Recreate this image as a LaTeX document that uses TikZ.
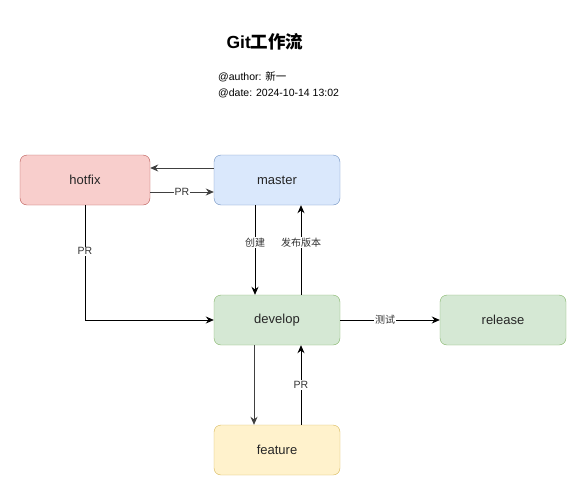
\documentclass[tikz,border=0pt]{standalone}
\usepackage{fontspec}
\setmainfont{Liberation Sans}
\newfontfamily\cjk{Noto Sans CJK SC}
\usetikzlibrary{arrows.meta}
\definecolor{redfill}{HTML}{F8CECC}
\definecolor{redline}{HTML}{B85450}
\definecolor{bluefill}{HTML}{DAE8FC}
\definecolor{blueline}{HTML}{6C8EBF}
\definecolor{greenfill}{HTML}{D5E8D4}
\definecolor{greenline}{HTML}{82B366}
\definecolor{yellowfill}{HTML}{FFF2CC}
\definecolor{yellowline}{HTML}{D6B656}
\tikzset{
    branch/.style={draw, rounded corners=7pt, minimum width=126pt, minimum height=50pt,
        font=\fontsize{13}{15}\selectfont, text=black!85},
    flow/.style={-{Stealth[length=8pt,width=7pt]}, line width=0.8pt},
    lbl/.style={fill=white, inner sep=1pt, font=\fontsize{10.5}{12}\selectfont, text=black!80}
}

\begin{document}
\begin{tikzpicture}[x=1pt, y=-1pt]
            \useasboundingbox (0,0) rectangle (587,496);
            \node[font=\bfseries\fontsize{17.5}{20}\selectfont](title) at (265,42) {Git{\cjk\bfseries 工作流}};
            \node[anchor=north west, align=left, inner sep=0pt,
                  font=\fontsize{10.5}{16}\selectfont](meta) at (218,71)
                  {@author: {\cjk 新一}\\@date: 2024-10-14 13:02};
            \node[branch, fill=redfill,    draw=redline,    minimum width=130pt](hotfix)  at (85,180)  {hotfix};
            \node[branch, fill=bluefill,   draw=blueline  ](master)  at (277,180) {master};
            \node[branch, fill=greenfill,  draw=greenline ](develop) at (277,320) {develop};
            \node[branch, fill=greenfill,  draw=greenline ](release) at (503,320) {release};
            \node[branch, fill=yellowfill, draw=yellowline](feature) at (277,450) {feature};
            \path
                ([yshift=12pt]master.west) edge [flow, black!75] ([yshift=12pt]hotfix.east)
                ([yshift=-12pt]hotfix.east)  edge [flow, black!75] node [lbl] {PR} ([yshift=-12pt]master.west)
                ([xshift=-22pt]master.south) edge [flow] node [lbl, pos=0.42, font=\cjk\fontsize{10}{12}\selectfont] {创建} ([xshift=-22pt]develop.north)
                ([xshift=24pt]develop.north) edge [flow] node [lbl, pos=0.58, font=\cjk\fontsize{10}{12}\selectfont] {发布版本} ([xshift=24pt]master.south)
                (develop.east) edge [flow] node [lbl, font=\cjk\fontsize{10}{12}\selectfont, pos=0.45] {测试} (release.west)
                ([xshift=-23pt]develop.south) edge [flow, black!75] ([xshift=-23pt]feature.north)
                ([xshift=24pt]feature.north) edge [flow] node [lbl] {PR} ([xshift=24pt]develop.south)
                ;
            \draw[flow] (hotfix.south) |- node [lbl, pos=0.2] {PR} (develop.west);
        \end{tikzpicture}
\end{document}
